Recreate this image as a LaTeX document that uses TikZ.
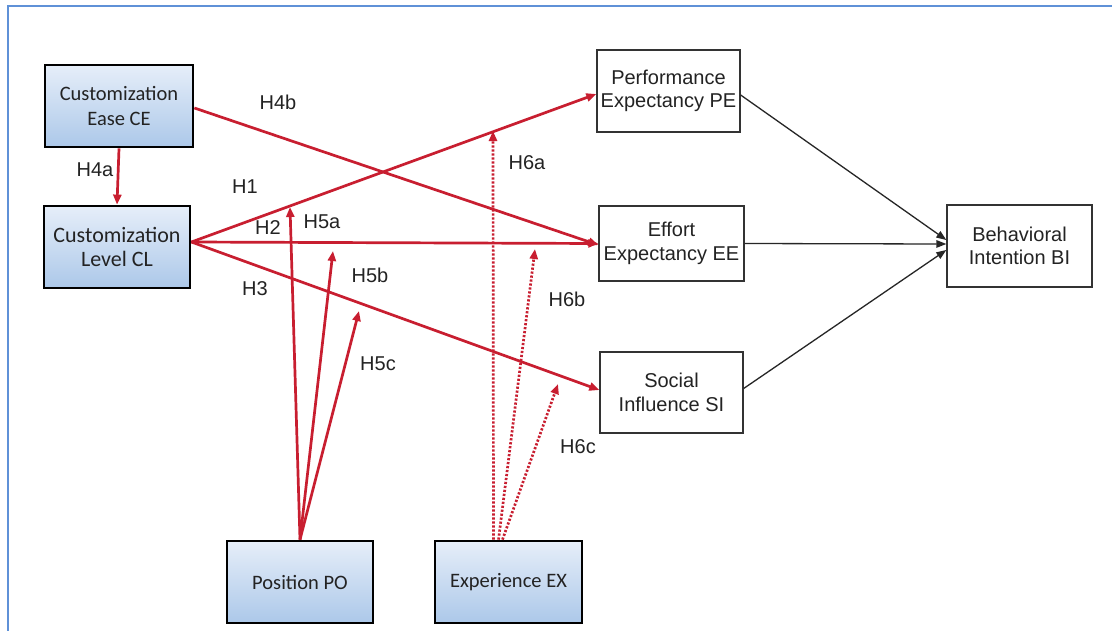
\documentclass[tikz,border=0pt]{standalone}
\usepackage{fontspec}
\setmainfont{Liberation Sans}
\newfontfamily\calfont{Carlito}
\usetikzlibrary{arrows.meta,calc}
\definecolor{hred}{RGB}{200,30,48}
\definecolor{frameblue}{RGB}{95,145,215}
\definecolor{boxtop}{RGB}{230,238,249}
\definecolor{boxbot}{RGB}{172,200,233}
\definecolor{txt}{RGB}{35,35,35}
\tikzset{
  bluebox/.style={draw=black, line width=2.8pt, top color=boxtop, bottom color=boxbot,
    align=center, inner sep=0pt, text=txt, font=\calfont\fontsize{20.5}{25}\selectfont},
  whitebox/.style={draw=black!80, line width=1.3pt, fill=white, align=center, inner sep=0pt,
    text=txt, font=\fontsize{20}{23.5}\selectfont},
  redarrow/.style={draw=hred, line width=2.7pt, -{Triangle[length=10pt,width=8pt]}},
  dotarrow/.style={draw=hred, line width=2.7pt, dash pattern=on 2.2pt off 1.8pt, -{Triangle[length=10pt,width=8pt]}},
  blackarrow/.style={draw=black!85, line width=1.3pt, -{Triangle[length=10pt,width=7.5pt]}},
  hlabel/.style={font=\fontsize{20}{22}\selectfont, inner sep=0pt, text=txt}
}
\begin{document}
\begin{tikzpicture}[x=1pt,y=-1pt]
\useasboundingbox (0,0) rectangle (1112,630);
\fill[white] (0,0) rectangle (1112,630);
\draw[frameblue, line width=2pt] (8,640) -- (8,6) -- (1120,6);

% blue boxes
\node[bluebox, minimum width=148pt, minimum height=82pt] (CE) at (119,106) {Customization\\Ease CE};
\node[bluebox, minimum width=146pt, minimum height=82pt, font=\calfont\fontsize{22}{24.5}\selectfont] (CL) at (117,247) {Customization\\Level CL};
\node[bluebox, minimum width=146pt, minimum height=82pt] (PO) at (300,582) {Position PO};
\node[bluebox, minimum width=147pt, minimum height=82pt] (EX) at (508.5,582) {Experience EX};

% white boxes
\node[whitebox, minimum width=143pt, minimum height=82pt] (PE) at (668.5,91) {Performance\\Expectancy PE};
\node[whitebox, minimum width=145pt, minimum height=75pt] (EE) at (671.5,243.5) {Effort\\Expectancy EE};
\node[whitebox, minimum width=143pt, minimum height=81pt] (SI) at (671.5,392.5) {Social\\Influence SI};
\node[whitebox, minimum width=145pt, minimum height=82pt] (BI) at (1019.5,246) {Behavioral\\Intention BI};

% black arrows to BI
\draw[blackarrow] ([yshift=-4pt]PE.east) -- ([yshift=6pt]BI.west);
\draw[blackarrow] (EE.east) -- ([yshift=2pt]BI.west);
\draw[blackarrow] ([yshift=4pt]SI.east) -- ([yshift=-4pt]BI.west);

% red main arrows
\coordinate (CLo) at ([yshift=5pt]CL.east);
\draw[redarrow] (CE.south) -- (CL.north);
\draw[redarrow] ([yshift=-2pt]CE.east) -- ([yshift=-1.5pt]EE.west);
\draw[redarrow] (CLo) -- ([yshift=-3pt]PE.west);
\draw[redarrow] (CLo) -- (EE.west);
\draw[redarrow] (CLo) -- ([yshift=2.5pt]SI.west);

% moderator targets
\coordinate (t5a) at (290,207);
\coordinate (t5b) at (333,251);
\coordinate (t5c) at (359,311);
\coordinate (t6a) at (493,131);
\coordinate (t6b) at (535,249);
\coordinate (t6c) at (558,384);

\draw[redarrow] (PO.north) -- (t5a);
\draw[redarrow] (PO.north) -- (t5b);
\draw[redarrow] (PO.north) -- (t5c);
\draw[dotarrow] ([xshift=-15pt]EX.north) -- (t6a);
\draw[dotarrow] ([xshift=-10pt]EX.north) -- (t6b);
\draw[dotarrow] ([xshift=-6pt]EX.north) -- (t6c);

% labels
\node[hlabel] (lH4a) at (95,170) {H4a};
\node[hlabel] (lH4b) at (278,102) {H4b};
\node[hlabel] (lH1) at (245,187) {H1};
\node[hlabel] (lH2) at (268,228) {H2};
\node[hlabel] (lH3) at (255,289) {H3};
\node[hlabel] (lH5a) at (322,222) {H5a};
\node[hlabel] (lH5b) at (370,275) {H5b};
\node[hlabel] (lH5c) at (378,364) {H5c};
\node[hlabel] (lH6a) at (527,163) {H6a};
\node[hlabel] (lH6b) at (567,299) {H6b};
\node[hlabel] (lH6c) at (578,447) {H6c};
\end{tikzpicture}
\end{document}
